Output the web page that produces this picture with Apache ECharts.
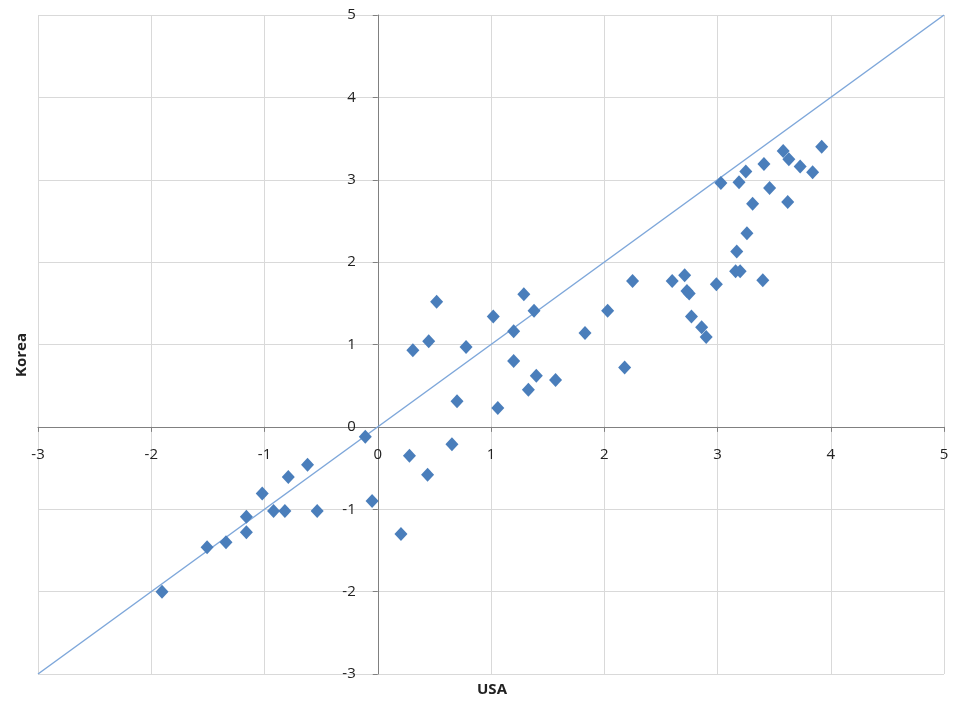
<!DOCTYPE html>
<html><head><meta charset="utf-8">
<script src="https://cdn.jsdelivr.net/npm/echarts@6/dist/echarts.min.js"></script>
<style>html,body{margin:0;padding:0;background:#fff}#c{width:955px;height:708px}</style>
</head><body><div id="c"></div>
<script>
const usa = [-1.905,-1.507,-1.34,-1.16,-1.16,-1.02,-0.92,-0.82,-0.79,-0.62,-0.535,-0.11,-0.05,0.205,0.28,0.44,0.655,0.31,0.45,0.52,0.70,0.78,1.02,1.06,1.29,1.20,1.20,1.38,1.33,1.40,1.57,1.83,2.03,2.18,2.25,2.60,2.71,2.73,2.75,2.77,2.86,2.90,2.99,3.03,3.16,3.20,3.17,3.26,3.19,3.25,3.31,3.41,3.40,3.46,3.58,3.63,3.62,3.73,3.84,3.92];
const korea = [-2.00,-1.46,-1.40,-1.28,-1.09,-0.81,-1.02,-1.02,-0.61,-0.46,-1.02,-0.12,-0.90,-1.30,-0.35,-0.58,-0.21,0.93,1.04,1.52,0.31,0.97,1.34,0.23,1.61,1.16,0.80,1.41,0.45,0.62,0.57,1.14,1.41,0.72,1.77,1.77,1.84,1.65,1.62,1.34,1.21,1.09,1.73,2.96,1.89,1.89,2.13,2.35,2.97,3.10,2.71,3.19,1.78,2.90,3.35,3.25,2.73,3.16,3.09,3.40];
const refLine = [[-3,-3],[5,5]];
const xTicks = {min:-3, max:5, interval:1};
const yTicks = {min:-3, max:5, interval:1};

const chart = echarts.init(document.getElementById('c'));
const font = '"Open Sans", "Liberation Sans", sans-serif';
const W = 955, H = 708, gLeft = 38, gRight = 11, gTop = 15, gBottom = 34;
const gH = H - gTop - gBottom, gW = W - gLeft - gRight;
const xZeroOffset = -gH * (0 - yTicks.min) / (yTicks.max - yTicks.min);
const yZeroOffset = -gW * (0 - xTicks.min) / (xTicks.max - xTicks.min);
chart.setOption({
  animation:false,
  grid:{left:gLeft, right:gRight, top:gTop, bottom:gBottom},
  xAxis:{type:'value', min:xTicks.min, max:xTicks.max, interval:xTicks.interval,
    offset: xZeroOffset,
    axisLine:{onZero:false, lineStyle:{color:'#808080', width:1}},
    axisTick:{show:true, length:5, lineStyle:{color:'#808080'}},
    axisLabel:{color:'#222', fontSize:15, fontFamily:font, margin:20},
    splitLine:{show:true, lineStyle:{color:'#d9d9d9', width:1}}},
  yAxis:{type:'value', min:yTicks.min, max:yTicks.max, interval:yTicks.interval,
    offset: yZeroOffset,
    axisLine:{onZero:false, lineStyle:{color:'#808080', width:1}},
    axisTick:{show:true, length:5, lineStyle:{color:'#808080'}},
    axisLabel:{color:'#222', fontSize:15, fontFamily:font, margin:22},
    splitLine:{show:true, lineStyle:{color:'#d9d9d9', width:1}}},
  graphic:[
    {type:'text', x:492, y:690, style:{text:'USA', font:'bold 15px '+font, fill:'#222', align:'center', verticalAlign:'middle'}},
    {type:'text', x:22, y:355, rotation:Math.PI/2, style:{text:'Korea', font:'bold 15px '+font, fill:'#222', align:'center', verticalAlign:'middle'}}
  ],
  series:[
    {type:'line', data:refLine, showSymbol:false, symbol:'none', lineStyle:{color:'#7ea7da', width:1.5}, z:2},
    {type:'scatter', data:usa.map((x,i)=>[x,korea[i]]), symbol:'diamond', symbolSize:[13,14],
      itemStyle:{color:'#4a7ebb', opacity:1}, z:3}
  ]
});
</script></body></html>
